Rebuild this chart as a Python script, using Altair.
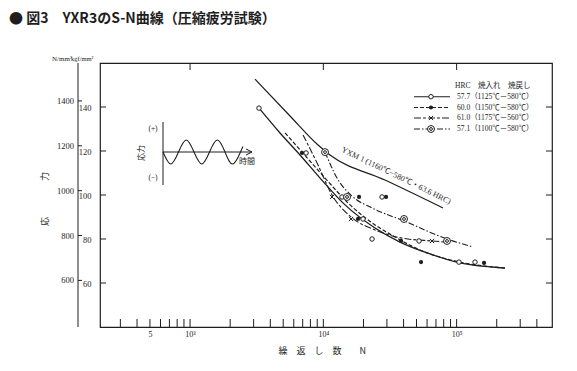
import altair as alt
import pandas as pd

# ---------------- data ----------------
# measured points: number of cycles N, stress (kgf/mm2)
n_577 = [3290, 7420, 13810, 19850, 23200, 27570, 52240, 104200, 137400]
s_577 = [139.5, 119.1, 99.1, 89.1, 80.0, 99.1, 79.1, 69.5, 69.5]
n_600 = [6920, 18210, 18530, 29540, 38280, 54070, 160600]
s_600 = [119.1, 89.1, 99.1, 99.1, 79.1, 69.5, 69.1]
n_610 = [11620, 16140, 65390]
s_610 = [99.1, 89.1, 79.1]
n_571 = [10300, 15060, 40310, 84720]
s_571 = [119.5, 99.1, 89.1, 79.1]

# S-N curves drawn in the figure
cn_577 = [3290, 4732, 6683, 9448, 14550, 24430, 37610, 63170, 106000, 230700]
cs_577 = [139.5, 128.2, 118.2, 107.7, 95.5, 85.0, 78.6, 73.2, 69.1, 66.8]
cn_600 = [5160, 6920, 10300, 15860, 24430, 34500, 53150, 106000, 230700]
cs_600 = [128.2, 119.5, 107.7, 95.5, 86.4, 80.9, 75.0, 69.5, 66.8]
cn_610 = [7043, 9126, 11620, 16140, 24430, 38280, 65390, 84720]
cs_610 = [127.3, 113.6, 100.0, 90.0, 84.1, 80.5, 79.1, 78.6]
cn_571 = [10300, 12670, 16420, 23200, 40310, 84720, 132800]
cs_571 = [119.5, 107.7, 99.5, 94.1, 88.2, 80.0, 76.4]
cn_yxm = [3070, 5623, 9126, 11220, 29030, 79070]
cs_yxm = [152.7, 135.9, 122.7, 118.2, 106.8, 94.1]

# axes
x_minor = [300, 400, 500, 600, 700, 800, 900, 1000,
           2000, 3000, 4000, 5000, 6000, 7000, 8000, 9000, 10000,
           20000, 30000, 40000, 50000, 60000, 70000, 80000, 90000, 100000,
           200000, 300000, 400000]
x_major = [1000, 10000, 100000]
x_labels = [500, 1000, 10000, 100000]
kgf_ticks = [60, 80, 100, 120, 140]
nmm_ticks = [600, 800, 1000, 1200, 1400]

legend_labels = ["57.7（1125℃－580℃）", "60.0（1150℃－580℃）",
                 "61.0（1175℃－560℃）", "57.1（1100℃－580℃）"]

# inset schematic: time (periods) vs stress sign
wave_t = [0, 0.25, 0.5, 0.75, 1.0, 1.25, 1.5, 1.75, 2.0, 2.25, 2.5, 2.58]
wave_v = [0, -1, 0, 1, 0, -1, 0, 1, 0, -1, 0, 0.45]

# ---------------- styling ----------------
W, H = 452, 264
INK = "#1e1e1e"
SERIF = "Liberation Serif, Noto Sans CJK JP"
CJK = "Noto Sans CJK JP"

xscale = alt.Scale(type="log", domain=[211, 519600], nice=False)
yscale = alt.Scale(domain=[40, 160], nice=False, zero=False)
label_expr = ("datum.value == 500 ? '5' : datum.value == 1000 ? '10³' : "
              "datum.value == 10000 ? '10⁴' : '10⁵'")
xaxis = alt.Axis(values=x_labels, labelExpr=label_expr, tickSize=0, domain=False,
                 grid=False, labelFont=SERIF, labelFontSize=8, labelPadding=3,
                 labelColor=INK, title=None, labelFlush=False)
yaxis = alt.Axis(values=kgf_ticks, tickSize=0, domain=False, grid=False,
                 labelFont=SERIF, labelFontSize=8.5, labelPadding=9,
                 labelColor=INK, title=None)
X = alt.X("N:Q", scale=xscale, axis=xaxis)
Y = alt.Y("S:Q", scale=yscale, axis=yaxis)


def txt(t, x, y, size=8, font=SERIF, align="left", angle=None, weight="normal"):
    kw = dict(text=t, fontSize=size, font=font, align=align, baseline="middle",
              color=INK, fontWeight=weight)
    if angle is not None:
        kw["angle"] = angle
    return alt.Chart().mark_text(**kw).encode(x=alt.value(x), y=alt.value(y))


def rule(x, y, x2, y2, w=1.0):
    return alt.Chart().mark_rule(color=INK, strokeWidth=w).encode(
        x=alt.value(x), y=alt.value(y), x2=alt.value(x2), y2=alt.value(y2))


layers = []

# ticks (pointing inward)
df_xmin = pd.DataFrame({"N": x_minor})
layers.append(alt.Chart(df_xmin).mark_rule(color=INK, strokeWidth=1).encode(
    x=X, y=alt.value(H), y2=alt.value(H - 8)))
df_xmaj = pd.DataFrame({"N": x_major})
layers.append(alt.Chart(df_xmaj).mark_rule(color=INK, strokeWidth=1).encode(
    x=X, y=alt.value(0), y2=alt.value(7)))
df_kgf = pd.DataFrame({"S": kgf_ticks})
layers.append(alt.Chart(df_kgf).mark_rule(color=INK, strokeWidth=1).encode(
    y=Y, x=alt.value(0), x2=alt.value(6)))
layers.append(alt.Chart(df_kgf).mark_rule(color=INK, strokeWidth=1).encode(
    y=Y, x=alt.value(W), x2=alt.value(W - 6)))

# outer N/mm2 axis
df_nmm = pd.DataFrame({"S": [v / 9.80665 for v in nmm_ticks],
                       "lab": [str(v) for v in nmm_ticks]})
layers.append(rule(-22, 0, -22, H))
layers.append(alt.Chart(df_nmm).mark_rule(color=INK, strokeWidth=1).encode(
    y=Y, x=alt.value(-22), x2=alt.value(-18)))
layers.append(alt.Chart(df_nmm).mark_text(font=SERIF, fontSize=8.5, align="right",
                                          baseline="middle", color=INK).encode(
    y=Y, x=alt.value(-26), text="lab:N"))

# curves
def curve(ns, ss, dash=None, w=1.1):
    kw = dict(color=INK, strokeWidth=w, interpolate="monotone")
    if dash:
        kw["strokeDash"] = dash
    return alt.Chart(pd.DataFrame({"N": ns, "S": ss})).mark_line(**kw).encode(x=X, y=Y)


DASH_600 = [4, 2]
DASH_610 = [7, 2, 3, 2]
DASH_571 = [6, 2, 1.5, 2]
layers.append(curve(cn_yxm, cs_yxm, w=1.2))
layers.append(curve(cn_577, cs_577, w=1.3))
layers.append(curve(cn_600, cs_600, DASH_600, w=1.2))
layers.append(curve(cn_610, cs_610, DASH_610))
layers.append(curve(cn_571, cs_571, DASH_571))

# points
XSHAPE = "M-1,-1L1,1M-1,1L1,-1"


def pts(ns, ss, shape="circle", filled=False, size=20):
    return alt.Chart(pd.DataFrame({"N": ns, "S": ss})).mark_point(
        shape=shape, filled=filled, size=size, color=INK, strokeWidth=1,
        opacity=1, fill="white" if not filled else INK).encode(x=X, y=Y)


layers.append(pts(n_577, s_577))
layers.append(pts(n_600, s_600, filled=True, size=18))
layers.append(alt.Chart(pd.DataFrame({"N": n_610, "S": s_610})).mark_point(
    shape=XSHAPE, filled=False, size=18, color=INK, strokeWidth=1, opacity=1).encode(x=X, y=Y))
layers.append(pts(n_571, s_571, size=48))
layers.append(alt.Chart(pd.DataFrame({"N": n_571, "S": s_571})).mark_point(
    shape="circle", filled=False, size=8, color=INK, strokeWidth=1, opacity=1).encode(x=X, y=Y))

# YXM1 label
layers.append(txt("YXM 1 (1160℃−580℃・63.6 HRC)", 296, 113, size=8, angle=26, align="center"))

# legend
layers.append(txt("HRC　焼入れ　焼戻し", 355, 22.5, size=7.5))
leg_y = [33.7, 44.5, 55, 66]
dashes = [None, DASH_600, DASH_610, DASH_571]
for i, lab in enumerate(legend_labels):
    y = leg_y[i]
    kw = dict(color=INK, strokeWidth=1.1)
    if dashes[i]:
        kw["strokeDash"] = dashes[i]
    layers.append(alt.Chart().mark_rule(**kw).encode(
        x=alt.value(314), x2=alt.value(350), y=alt.value(y)))
    layers.append(txt(lab, 357, y, size=7.5))
sym_x = 331
layers.append(alt.Chart().mark_point(shape="circle", size=20, color=INK, fill="white",
                                     filled=False, opacity=1, strokeWidth=1).encode(
    x=alt.value(sym_x), y=alt.value(leg_y[0])))
layers.append(alt.Chart().mark_point(shape="circle", size=18, color=INK, filled=True,
                                     opacity=1).encode(x=alt.value(sym_x), y=alt.value(leg_y[1])))
layers.append(alt.Chart().mark_point(shape=XSHAPE, size=18, color=INK, filled=False,
                                     opacity=1, strokeWidth=1).encode(
    x=alt.value(sym_x), y=alt.value(leg_y[2])))
layers.append(alt.Chart().mark_point(shape="circle", size=48, color=INK, fill="white",
                                     filled=False, opacity=1, strokeWidth=1).encode(
    x=alt.value(sym_x), y=alt.value(leg_y[3])))
layers.append(alt.Chart().mark_point(shape="circle", size=8, color=INK, filled=False,
                                     opacity=1, strokeWidth=1).encode(
    x=alt.value(sym_x), y=alt.value(leg_y[3])))

# inset schematic axes and labels
layers.append(rule(63, 59, 63, 122))
layers.append(rule(63, 89, 152, 89))
layers.append(rule(146, 86, 152, 89))
layers.append(rule(146, 92, 152, 89))
layers.append(txt("(+)", 53, 66, size=7.5, align="center"))
layers.append(txt("(−)", 53, 115, size=7.5, align="center"))
layers.append(txt("応力", 42, 90, size=8, font=CJK, align="center", angle=270))
layers.append(txt("時間", 147, 99, size=8, font=CJK, align="center"))

# axis titles and units
layers.append(txt("応　　　　力", -55, 136, size=9, font=CJK, align="center", angle=270))
layers.append(txt("繰　返　し　数　　N", 178.5, 288, size=9, font=CJK))
layers.append(txt("N/mm²", -48, -4, size=7))
layers.append(txt("kgf/mm²", -29, -4, size=6.5))

# figure title
layers.append(txt("●  図3　YXR3のS-N曲線（圧縮疲労試験）", -91, -44, size=14,
                  font=CJK, weight="bold"))

main = alt.layer(*layers)

wave = alt.Chart(pd.DataFrame({"t": wave_t, "v": wave_v})).mark_line(
    color=INK, strokeWidth=1.1, interpolate="natural").encode(
    x=alt.X("t:Q", scale=alt.Scale(domain=[0, 2.58], range=[63, 143], nice=False, zero=False), axis=None),
    y=alt.Y("v:Q", scale=alt.Scale(domain=[-1, 1], range=[101, 77], nice=False, zero=False), axis=None))

chart = alt.layer(main, wave).resolve_scale(x="independent", y="independent").properties(
    width=W, height=H,
    padding={"left": 100, "top": 63, "right": 25, "bottom": 44},
    autosize=alt.AutoSizeParams(type="none"),
    background="white",
).configure_view(stroke=INK, strokeWidth=1.2)

chart.save("out.html", embed_options={"renderer": "svg", "actions": False})
